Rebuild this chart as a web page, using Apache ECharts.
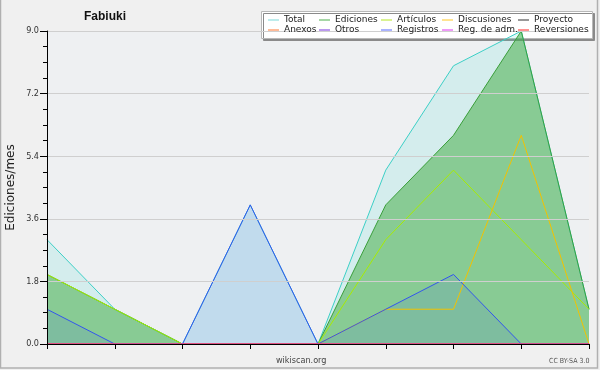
<!DOCTYPE html>
<html><head><meta charset="utf-8">
<script src="https://cdn.jsdelivr.net/npm/echarts@6/dist/echarts.min.js"></script>
<style>html,body{margin:0;padding:0;background:#f0f0f0;}#c{width:600px;height:370px;}</style>
</head><body><div id="c"></div>
<script>
const categories = ['m1','m2','m3','m4','m5','m6','m7','m8','m9'];
const total       = [3,1,0,4,0,5,8,9,1];
const ediciones   = [2,1,0,0,0,4,6,9,1];
const articulos   = [2,1,0,0,0,3,5,3,1];
const discusiones = [0,0,0,0,0,1,1,6,0];
const proyecto    = [0,0,0,0,0,0,0,0,0];
const anexos      = [0,0,0,0,0,0,0,0,0];
const otros       = [0,0,0,0,0,0,0,0,0];
const registros   = [1,0,0,4,0,1,2,0,0];
const regAdm      = [0,0,0,0,0,0,0,0,0];
const reversiones = [0,0,0,0,0,0,0,0,0];
const yTicks = [0, 1.8, 3.6, 5.4, 7.2, 9.0];

const chart = echarts.init(document.getElementById('c'), null, {renderer:'canvas'});
function ser(name, data, color, area, areaOpacity){
  const s = {name, type:'line', data, symbol:'none', showSymbol:false,
    lineStyle:{color, width:1}, itemStyle:{color}, animation:false};
  if (area) s.areaStyle = {color: area, opacity: areaOpacity};
  return s;
}
const legendCols = [
  [268, [['Total','#7ad8d8'],['Anexos','#ff7733']]],
  [319, [['Ediciones','#4caf4c'],['Otros','#7733dd']]],
  [381, [['Artículos','#b4e622'],['Registros','#5566ff']]],
  [442, [['Discusiones','#ffc622'],['Reg. de adm.','#dd33ee']]],
  [518, [['Proyecto','#333333'],['Reversiones','#ff2222']]]
];
const legends = legendCols.map(([x, items]) => ({
  orient:'vertical', left:x, top:15, padding:0, itemGap:0,
  itemWidth:11, itemHeight:1, icon:'rect', selectedMode:false, z:10,
  textStyle:{fontFamily:'DejaVu Sans', fontSize:9, color:'#222', lineHeight:10},
  data: items.map(([n,c]) => ({name:n, itemStyle:{color:c}}))
}));

chart.setOption({
  backgroundColor:'#f0f0f0',
  animation:false,
  title:{text:'Fabiuki', left:84, top:11, padding:0,
    textStyle:{fontFamily:'Liberation Sans', fontWeight:'bold', fontSize:12, color:'#111'}},
  legend: legends,
  grid:{left:47, right:11, top:31, bottom:26, show:true, backgroundColor:'#eef0f2', borderWidth:0,
    containLabel:false, outerBoundsMode:'none'},
  xAxis:{type:'category', data:categories, boundaryGap:false, z:5,
    axisLine:{lineStyle:{color:'#000', width:1}},
    axisTick:{show:true, interval:0, length:5, lineStyle:{color:'#000'}},
    axisLabel:{show:false}, splitLine:{show:false}},
  yAxis:{type:'value', min:0, max:9, interval:1.8, z:5,
    name:'Ediciones/mes', nameLocation:'middle', nameRotate:90, nameGap:30, nameMoveOverlap:false,
    nameTextStyle:{fontFamily:'DejaVu Sans', fontSize:12, color:'#222'},
    axisLine:{show:true, lineStyle:{color:'#000', width:1}},
    axisTick:{show:true, length:7, lineStyle:{color:'#000'}},
    minorTick:{show:true, splitNumber:4, length:4, lineStyle:{color:'#000'}},
    axisLabel:{margin:8, fontFamily:'DejaVu Sans Condensed, DejaVu Sans', fontSize:9, color:'#333',
      formatter: v => { const t = yTicks.find(k => Math.abs(k - v) < 1e-6); return (t !== undefined ? t : v).toFixed(1); }},
    splitLine:{show:true, lineStyle:{color:'#cfcfcf', width:1}}},
  graphic:[
    {type:'rect', z:1, shape:{x:261.5, y:11.5, width:331, height:27},
      style:{fill:'#fff', stroke:'#b8b8b8', lineWidth:1, shadowColor:'#8a8a8a', shadowOffsetX:2, shadowOffsetY:2, shadowBlur:0}},
    {type:'text', z:5, left:276, top:356, style:{text:'wikiscan.org', fontFamily:'DejaVu Sans Condensed, DejaVu Sans', fontSize:9, fill:'#444'}},
    {type:'text', z:5, left:549, top:358, style:{text:'CC BY-SA 3.0', fontFamily:'DejaVu Sans Condensed, DejaVu Sans', fontSize:7, fill:'#555'}},
    {type:'rect', z:6, shape:{x:0.5, y:-2, width:597, height:370}, style:{fill:'none', stroke:'#b0b0b0', lineWidth:1.5}}
  ],
  series:[
    ser('Total', total, '#3ccfc6', '#40e0d0', 0.15),
    ser('Ediciones', ediciones, '#3a9e3a', '#3caa3c', 0.5),
    ser('Artículos', articulos, '#a8ec00'),
    ser('Discusiones', discusiones, '#f2c200'),
    ser('Proyecto', proyecto, '#555555'),
    ser('Anexos', anexos, '#ff8844'),
    ser('Otros', otros, '#8844dd'),
    ser('Registros', registros, '#3355ee', '#3c5af0', 0.12),
    ser('Reg. de adm.', regAdm, '#dd55ee'),
    ser('Reversiones', reversiones, '#ff4444')
  ]
});
</script></body></html>
